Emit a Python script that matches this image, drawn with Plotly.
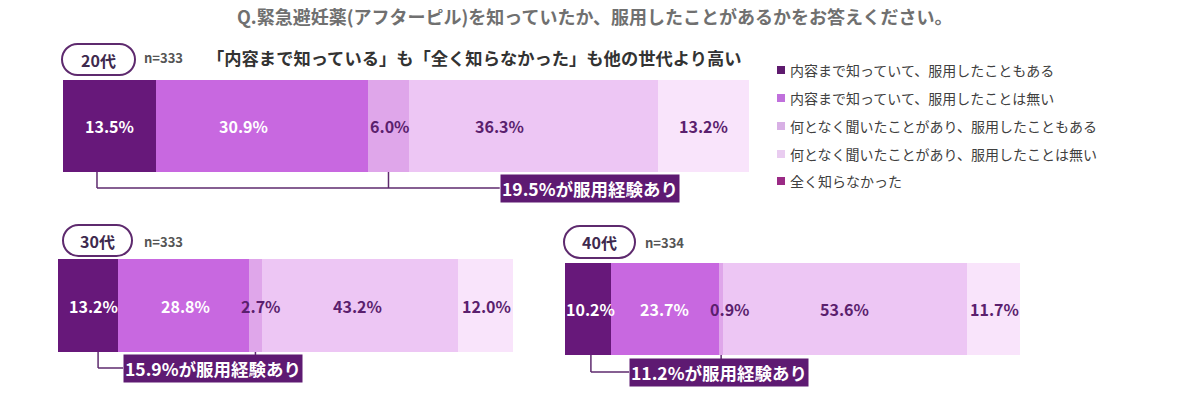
import plotly.graph_objects as go

W, H = 1200, 398

# ---------------- data ----------------
title_text = "Q.緊急避妊薬(アフターピル)を知っていたか、服用したことがあるかをお答えください。"
categories = [
    "内容まで知っていて、服用したこともある",
    "内容まで知っていて、服用したことは無い",
    "何となく聞いたことがあり、服用したこともある",
    "何となく聞いたことがあり、服用したことは無い",
    "全く知らなかった",
]
groups = ["20代", "30代", "40代"]
sample_sizes = [333, 333, 334]
values_20s = [13.5, 30.9, 6.0, 36.3, 13.2]
values_30s = [13.2, 28.8, 2.7, 43.2, 12.0]
values_40s = [10.2, 23.7, 0.9, 53.6, 11.7]
experience_rates = [19.5, 15.9, 11.2]
headline_20s = "「内容まで知っている」も「全く知らなかった」も他の世代より高い"
all_values = [values_20s, values_30s, values_40s]

# ---------------- styles ----------------
FONT = "Noto Sans CJK JP"
bar_colors = ["#67187A", "#C868E0", "#DFA6EA", "#EDC6F4", "#F9E4FB"]
legend_colors = ["#5E1A6E", "#C070DC", "#D8B0E5", "#E9CCF0", "#9A2A85"]
label_colors = ["#FFFFFF", "#FFFFFF", "#5B1F6E", "#5B1F6E", "#5B1F6E"]
box_color = "#5E1A72"
line_color = "#5E2A6E"

# panel geometry in pixels: bar (left, right, top, bottom), pill (x0, y0, x1, y1)
panels = [
    dict(bar=(63, 749, 80, 172), pill=(62, 44, 135, 75), n_xy=(142, 58),
         label_shift=[0, -18, 2, -34, 0], bracket_off=-1.8, h_y=188, box_x=63.6),
    dict(bar=(58, 513, 259, 352), pill=(63, 225, 132, 256), n_xy=(142, 241),
         label_shift=[5, 2, 6, -2, 1], bracket_off=2.2, h_y=368, box_x=14.3),
    dict(bar=(565, 1020, 263, 355), pill=(564, 226, 635, 258), n_xy=(643, 242),
         label_shift=[2, -1, 9, -1, 1], bracket_off=0.6, h_y=372, box_x=14.1),
]


def PX(x):
    return x / W


def PY(y):
    return 1 - y / H


def pill_path(x0, y0, x1, y1):
    r = (y1 - y0) / 2
    k = 0.5523 * r
    ym = (y0 + y1) / 2
    pts = [
        ("M", [(x0 + r, y0)]),
        ("L", [(x1 - r, y0)]),
        ("C", [(x1 - r + k, y0), (x1, ym - k), (x1, ym)]),
        ("C", [(x1, ym + k), (x1 - r + k, y1), (x1 - r, y1)]),
        ("L", [(x0 + r, y1)]),
        ("C", [(x0 + r - k, y1), (x0, ym + k), (x0, ym)]),
        ("C", [(x0, ym - k), (x0 + r - k, y0), (x0 + r, y0)]),
    ]
    s = ""
    for cmd, ps in pts:
        s += cmd + " " + " ".join(f"{PX(a):.5f},{PY(b):.5f}" for a, b in ps) + " "
    return s + "Z"


fig = go.Figure()
shapes = []
annotations = []
layout_axes = {}

for i, (grp, vals, n, rate, p) in enumerate(zip(groups, all_values, sample_sizes, experience_rates, panels)):
    sfx = "" if i == 0 else str(i + 1)
    xa, ya = "x" + sfx, "y" + sfx
    left, right, top, bottom = p["bar"]
    total = sum(vals)
    layout_axes["xaxis" + sfx] = dict(domain=[PX(left), PX(right)], range=[0, total], visible=False,
                                      anchor=ya, fixedrange=True)
    layout_axes["yaxis" + sfx] = dict(domain=[PY(bottom), PY(top)], range=[-0.5, 0.5], visible=False,
                                      anchor=xa, fixedrange=True)
    cum = 0
    centers = []
    for j, v in enumerate(vals):
        fig.add_trace(go.Bar(x=[v], y=[0], orientation="h", width=1, xaxis=xa, yaxis=ya,
                             marker=dict(color=bar_colors[j], line=dict(width=0)),
                             showlegend=False, hoverinfo="skip", name=categories[j]))
        c = cum + v / 2
        centers.append(c)
        annotations.append(dict(x=c, y=0, xref=xa, yref=ya, text=f"<b>{v:.1f}%</b>",
                                showarrow=False, xshift=p["label_shift"][j],
                                font=dict(family=FONT, size=16, color=label_colors[j])))
        cum += v

    # bracket
    bx1 = centers[0] + p["bracket_off"]
    bx2 = centers[2]
    for bx in (bx1, bx2):
        shapes.append(dict(type="line", xref=xa, yref="paper", x0=bx, x1=bx,
                           y0=PY(bottom), y1=PY(p["h_y"]), line=dict(color=line_color, width=1.5)))
    shapes.append(dict(type="line", xref=xa, yref="paper", x0=bx1, x1=p["box_x"],
                       y0=PY(p["h_y"]), y1=PY(p["h_y"]), line=dict(color=line_color, width=1.5)))
    annotations.append(dict(x=p["box_x"], y=PY(p["h_y"]), xref=xa, yref="paper", xanchor="left",
                            yanchor="middle", showarrow=False, text=f"<b>{rate:.1f}%が服用経験あり</b>",
                            bgcolor=box_color, borderpad=1,
                            font=dict(family=FONT, size=17.5, color="#FFFFFF")))

    # pill label
    px0, py0, px1, py1 = p["pill"]
    shapes.append(dict(type="path", xref="paper", yref="paper", path=pill_path(px0, py0, px1, py1),
                       line=dict(color=line_color, width=2), fillcolor="#FFFFFF"))
    annotations.append(dict(x=PX((px0 + px1) / 2), y=PY((py0 + py1) / 2), xref="paper", yref="paper",
                            showarrow=False, text=f"<b>{grp}</b>", xanchor="center", yanchor="middle",
                            font=dict(family=FONT, size=16, color="#3E2A4E")))
    nx, ny = p["n_xy"]
    annotations.append(dict(x=PX(nx), y=PY(ny), xref="paper", yref="paper", showarrow=False,
                            text=f"<b>n={n}</b>", xanchor="left", yanchor="middle",
                            font=dict(family=FONT, size=13, color="#555555")))

# headline for 20s
annotations.append(dict(x=PX(205), y=PY(57), xref="paper", yref="paper", showarrow=False,
                        text=f"<b>{headline_20s}</b>", xanchor="left", yanchor="middle",
                        font=dict(family=FONT, size=17.3, color="#333333")))

# title
annotations.append(dict(x=PX(595), y=PY(16), xref="paper", yref="paper", showarrow=False,
                        text=f"<b>{title_text}</b>", xanchor="center", yanchor="middle",
                        font=dict(family=FONT, size=18, color="#707070")))

# legend
legend_rows = [70, 98, 126, 154, 181]
for cat, col, ry in zip(categories, legend_colors, legend_rows):
    shapes.append(dict(type="rect", xref="paper", yref="paper", x0=PX(777), x1=PX(785),
                       y0=PY(ry - 4), y1=PY(ry + 4), fillcolor=col, line=dict(width=0)))
    annotations.append(dict(x=PX(788), y=PY(ry), xref="paper", yref="paper", showarrow=False,
                            text=cat, xanchor="left", yanchor="middle",
                            font=dict(family=FONT, size=14, color="#404040")))

fig.update_layout(
    width=W, height=H, margin=dict(l=0, r=0, t=0, b=0),
    paper_bgcolor="#FFFFFF", plot_bgcolor="#FFFFFF",
    barmode="stack", bargap=0, showlegend=False,
    shapes=shapes, annotations=annotations,
    **layout_axes,
)

fig.write_html("out.html", config={"displayModeBar": False})
